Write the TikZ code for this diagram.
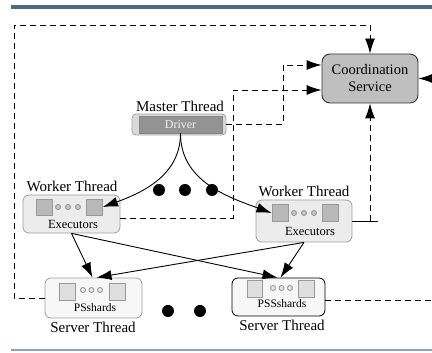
\documentclass[tikz,border=0pt]{standalone}
\usepackage{fontspec}
\setmainfont{Liberation Serif}
\usetikzlibrary{arrows.meta}

\definecolor{rulebl}{HTML}{4E6A88}
\definecolor{rulelt}{HTML}{8FA2B6}

\tikzset{
  tip/.style = {-{Latex[length=15pt,width=10pt]}},
  dsh/.style = {dash pattern=on 6pt off 4pt, line width=0.9pt},
  thrbox/.style = {draw=gray!75, fill=gray!15, rounded corners=6pt, line width=0.8pt},
  srvbox/.style = {draw=gray!75, fill=gray!6, rounded corners=6pt, line width=0.8pt},
  exsq/.style = {draw=gray!80, fill=gray!55, minimum width=16pt, minimum height=16pt, inner sep=0pt},
  pssq/.style = {draw=gray!80, fill=gray!25, minimum width=16pt, minimum height=17pt, inner sep=0pt},
  smdot/.style = {circle, draw=gray!80, fill=gray!45, minimum size=5pt, inner sep=0pt},
  psdot/.style = {circle, draw=gray!80, fill=gray!15, minimum size=5pt, inner sep=0pt},
  bigdot/.style = {circle, fill=black, minimum size=12pt, inner sep=0pt},
  lbl/.style = {font=\fontsize{15}{17}\selectfont, inner sep=0pt},
  sml/.style = {font=\fontsize{12.5}{14}\selectfont, inner sep=0pt}
}

\begin{document}
\begin{tikzpicture}[x=1pt, y=1pt, line width=0.9pt]
\useasboundingbox (0,0) rectangle (432,353);
\draw[rulebl, line width=4pt] (11,346) -- (432,346);
\draw[rulelt, line width=1.5pt] (11,3) -- (432,3);

% coordination service
\node[draw=gray!40!black, fill=gray!50, rounded corners=8pt, minimum width=96pt, minimum height=49pt,
      align=center, font=\fontsize{14.5}{17}\selectfont] (cs) at (370,274.5) {Coordination\\Service};

% master thread
\node[draw=gray!70, fill=gray!30, rounded corners=4pt, minimum width=94pt, minimum height=21pt] (mo) at (179,228.5) {};
\node[fill=gray!85, draw=gray!95, minimum width=83pt, minimum height=17pt, inner sep=0pt,
      text=gray!10, font=\fontsize{12}{14}\selectfont] (mi) at (180.5,228.5) {Driver};
\node[lbl] (mt) at (180,247) {Master Thread};

% worker threads
\node[thrbox, minimum width=97pt, minimum height=38pt] (lw) at (71.5,139) {};
\node[exsq] (lw1) at (44,146) {};
\node[exsq] (lw2) at (94.5,146) {};
\node[smdot] (lc1) at (58,146) {};
\node[smdot] (lc2) at (68,146) {};
\node[smdot] (lc3) at (78,146) {};
\node[sml] (lx) at (73,129) {Executors};
\node[lbl] (lt) at (72,167) {Worker Thread};

\node[thrbox, minimum width=96pt, minimum height=42pt] (rw) at (304,132) {};
\node[exsq, minimum height=17pt] (rw1) at (280,140) {};
\node[exsq, minimum height=17pt] (rw2) at (330,140) {};
\node[smdot] (rc1) at (294,140) {};
\node[smdot] (rc2) at (304,140) {};
\node[smdot] (rc3) at (314,140) {};
\node[sml] (rx) at (310,122) {Executors};
\node[lbl] (rt) at (304,162) {Worker Thread};

% server threads
\node[srvbox, minimum width=97pt, minimum height=40pt] (ls) at (93.5,55) {};
\node[pssq] (ls1) at (67,61.5) {};
\node[pssq] (ls2) at (117.5,61.5) {};
\node[psdot] (sc1) at (83,63) {};
\node[psdot] (sc2) at (91.5,63) {};
\node[psdot] (sc3) at (100,63) {};
\node[sml, font=\fontsize{11.5}{13}\selectfont] (lp) at (95,45) {PSshards};
\node[lbl] (lst) at (93,26) {Server Thread};

\node[srvbox, draw=black, minimum width=93pt, minimum height=38pt] (rs) at (278.5,56) {};
\node[pssq, minimum width=15pt] (rs1) at (255,64.5) {};
\node[pssq] (rs2) at (306,64.5) {};
\node[psdot] (tc1) at (273,65) {};
\node[psdot] (tc2) at (281.5,65) {};
\node[psdot] (tc3) at (290,65) {};
\node[sml, font=\fontsize{11.5}{13}\selectfont] (rp) at (282,49) {PSSshards};
\node[lbl] (rst) at (282,28) {Server Thread};

% dots
\node[bigdot] (d1) at (159,163) {};
\node[bigdot] (d2) at (185,163) {};
\node[bigdot] (d3) at (212,163) {};
\node[bigdot] (d4) at (168,42) {};
\node[bigdot] (d5) at (200,42) {};

% free ends on the right
\coordinate (re1) at (432,274.5);
\coordinate (re2) at (432,53);
\coordinate (tl) at (14,328);

% driver to executors
\draw[tip] (mi.south) to[out=-90, in=20] (lw2.east);
\draw[tip] (mi.south) to[out=-90, in=160] (rw1.west);

% executors to shards
\draw[tip] (lw.south) -- ([xshift=-1pt]ls.north);
\draw[tip] (rw.south) -- ([xshift=3pt]ls.north);
\draw[tip] (lw.south) -- ([xshift=-1pt]rs.north);
\draw[tip] (rw.south) -- ([xshift=2pt]rs.north);

% to coordination service
\draw[dsh, tip] (ls.west) -| (tl) -| (cs.north);
\draw[dsh, tip] (mo.east) -- ++(57,0) |- ([yshift=13.5pt]cs.west);
\draw[dsh, tip] ([yshift=-4pt]lw.east) -- ++(113,0) |- ([yshift=-11.5pt]cs.west);
\draw (rw.east) -- ++(26,0);
\draw[dsh, tip] (cs.south |- rw.east) -- (cs.south);
\draw[dsh, tip] (re1) -- (cs.east);
\draw[dsh] ([yshift=-3pt]rs.east) -- (re2);
\end{tikzpicture}
\end{document}
